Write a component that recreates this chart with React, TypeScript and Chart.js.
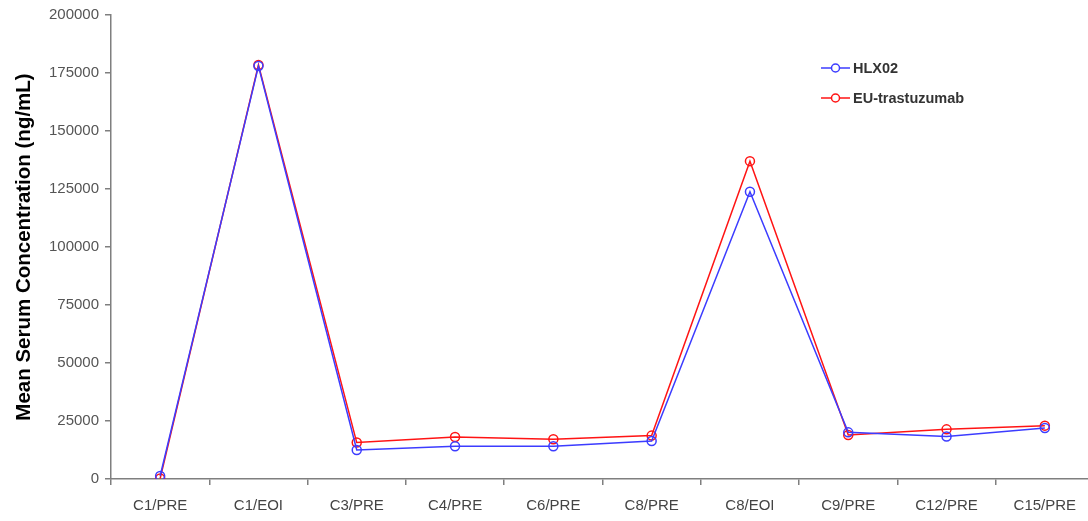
import React, { useEffect, useRef } from "react";
import { Chart, registerables } from "chart.js";

Chart.register(...registerables);

const categories = ["C1/PRE", "C1/EOI", "C3/PRE", "C4/PRE", "C6/PRE", "C8/PRE", "C8/EOI", "C9/PRE", "C12/PRE", "C15/PRE"];
const hlx02 = [1300, 178000, 12500, 14100, 14100, 16400, 123800, 20100, 18300, 22000];
const euTrastuzumab = [200, 178500, 15700, 18100, 17100, 18700, 137000, 19000, 21400, 23000];
const yTicks = [0, 25000, 50000, 75000, 100000, 125000, 150000, 175000, 200000];

const BLUE = "rgb(60,60,255)";
const RED = "rgb(255,20,20)";
const FONT = "'Liberation Sans', Arial, sans-serif";

const legendPlugin = {
  id: "customLegend",
  afterDraw(chart: any) {
    const ctx = chart.ctx;
    const items = [
      { label: "HLX02", color: BLUE, y: 68 },
      { label: "EU-trastuzumab", color: RED, y: 98 },
    ];
    ctx.save();
    items.forEach((it) => {
      ctx.strokeStyle = it.color;
      ctx.lineWidth = 1.5;
      ctx.beginPath();
      ctx.moveTo(821, it.y);
      ctx.lineTo(850, it.y);
      ctx.stroke();
      ctx.beginPath();
      ctx.fillStyle = "#fff";
      ctx.arc(835.5, it.y, 4, 0, Math.PI * 2);
      ctx.fill();
      ctx.stroke();
      ctx.fillStyle = "#333";
      ctx.font = `bold 14.5px ${FONT}`;
      ctx.textBaseline = "middle";
      ctx.textAlign = "left";
      ctx.fillText(it.label, 853, it.y + 1);
    });
    ctx.restore();
  },
};

export default function App() {
  const ref = useRef<HTMLCanvasElement>(null);
  useEffect(() => {
    if (!ref.current) return;
    const chart = new Chart(ref.current, {
      type: "line",
      data: {
        labels: categories,
        datasets: [
          {
            label: "HLX02",
            data: hlx02,
            borderColor: BLUE,
            backgroundColor: "rgba(0,0,0,0)",
            borderWidth: 1.5,
            pointRadius: 4.5,
            pointBorderWidth: 1.5,
            pointBorderColor: BLUE,
            pointBackgroundColor: "rgba(255,255,255,0)",
            tension: 0,
          },
          {
            label: "EU-trastuzumab",
            data: euTrastuzumab,
            borderColor: RED,
            backgroundColor: "rgba(0,0,0,0)",
            borderWidth: 1.5,
            pointRadius: 4.5,
            pointBorderWidth: 1.5,
            pointBorderColor: RED,
            pointBackgroundColor: "rgba(255,255,255,0)",
            tension: 0,
          },
        ],
      },
      options: {
        responsive: false,
        animation: false,
        devicePixelRatio: 1,
        layout: { padding: { top: 15, right: 6, left: 0, bottom: 0 } },
        plugins: {
          legend: { display: false },
          tooltip: { enabled: false },
        },
        scales: {
          x: {
            type: "category",
            offset: true,
            grid: { offset: true, drawOnChartArea: false, drawTicks: true, tickLength: 6, color: "#7f7f7f", lineWidth: 1.5 },
            border: { color: "#7f7f7f", width: 1.5 },
            ticks: { color: "#444", font: { family: FONT, size: 15 }, padding: 12, maxRotation: 0, autoSkip: false },
            afterFit(scale: any) {
              scale.height = 42;
            },
          },
          y: {
            min: 0,
            max: 200000,
            afterBuildTicks(scale: any) {
              scale.ticks = yTicks.map((v) => ({ value: v }));
            },
            grid: { drawOnChartArea: false, drawTicks: true, tickLength: 6, color: "#7f7f7f", lineWidth: 1.5 },
            border: { color: "#7f7f7f", width: 1.5 },
            ticks: {
              color: "#555",
              font: { family: FONT, size: 15 },
              padding: 6,
              callback: (v: any) => String(v),
            },
            title: {
              display: true,
              text: "Mean Serum Concentration (ng/mL)",
              color: "#000",
              font: { family: FONT, size: 20.5, weight: "bold" },
              padding: { top: 12, bottom: 0 },
            },
            afterFit(scale: any) {
              scale.width = 111;
            },
          },
        },
      },
      plugins: [legendPlugin],
    });
    return () => chart.destroy();
  }, []);
  return (
    <canvas
      ref={ref}
      width={1100}
      height={521}
      style={{ position: "absolute", left: 0, top: 0, width: 1100, height: 521 }}
    />
  );
}
